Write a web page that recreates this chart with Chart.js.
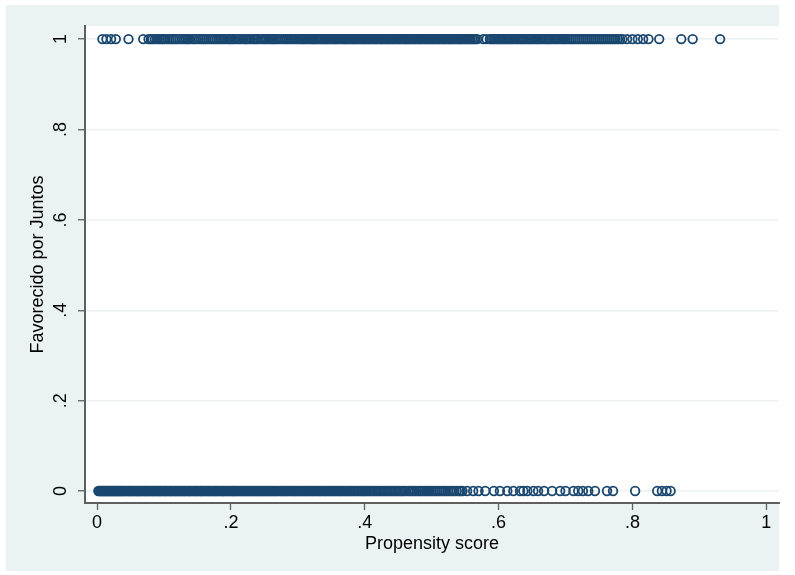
<!DOCTYPE html>
<html>
<head>
<meta charset="utf-8">
<script src="https://cdn.jsdelivr.net/npm/chart.js@4/dist/chart.umd.min.js"></script>
<style>
  html, body { margin: 0; padding: 0; background: #fff; }
  #wrap { width: 795px; height: 575px; }
</style>
</head>
<body>
<div id="wrap"><canvas id="c" width="795" height="575"></canvas></div>
<script>
// propensity scores of the favoured group (y = 1)
const treatedScores = [
  0.008, 0.014, 0.021, 0.028, 0.047, 0.069, 0.077, 0.083, 0.09, 0.096, 0.101, 0.108,
  0.114, 0.12, 0.127, 0.133, 0.138, 0.145, 0.152, 0.158, 0.163, 0.17, 0.176, 0.182,
  0.188, 0.195, 0.2, 0.205, 0.212, 0.219, 0.224, 0.23, 0.236, 0.241, 0.248, 0.254,
  0.26, 0.265, 0.271, 0.278, 0.284, 0.29, 0.296,
  0.302, 0.307, 0.311, 0.316, 0.321, 0.325, 0.33, 0.335, 0.34, 0.344, 0.349, 0.354,
  0.358, 0.363, 0.368, 0.372, 0.377, 0.382, 0.386, 0.391, 0.396, 0.4, 0.405, 0.409,
  0.414, 0.418, 0.423, 0.427, 0.432, 0.436, 0.441, 0.445, 0.45, 0.454, 0.459, 0.463,
  0.467, 0.472, 0.476, 0.481, 0.485, 0.49, 0.494, 0.499, 0.503, 0.508, 0.512, 0.517,
  0.521, 0.526, 0.53, 0.535, 0.54, 0.544, 0.549, 0.554, 0.558, 0.563, 0.568, 0.577,
  0.582, 0.587, 0.592, 0.597, 0.602, 0.607, 0.612, 0.617, 0.622, 0.628, 0.633, 0.638,
  0.644, 0.649, 0.655, 0.66, 0.666, 0.672, 0.677, 0.683, 0.689, 0.695, 0.7, 0.706,
  0.712, 0.718, 0.724, 0.73, 0.736, 0.742, 0.748, 0.754, 0.76, 0.766, 0.772, 0.778,
  0.785, 0.792, 0.8, 0.808, 0.816, 0.824, 0.84, 0.873, 0.89, 0.931
];
// more favoured cases in the crowded middle part
const treatedScoresDense = [
  0.0805, 0.0865, 0.093, 0.0985, 0.105, 0.111, 0.117, 0.1235, 0.13, 0.1355, 0.142, 0.148,
  0.155, 0.1605, 0.1665, 0.173, 0.179, 0.185, 0.191, 0.1975, 0.2025, 0.2085, 0.215,
  0.2215, 0.227, 0.2335, 0.2385, 0.245, 0.251, 0.257, 0.2625, 0.268, 0.2745, 0.281,
  0.287, 0.293, 0.299,
  0.3045, 0.309, 0.3135, 0.3185, 0.323, 0.3275, 0.3325, 0.3375, 0.342, 0.3465, 0.3515,
  0.356, 0.3605, 0.3655, 0.37, 0.3745, 0.3795, 0.384, 0.3885, 0.3935, 0.398, 0.4025,
  0.407, 0.4115, 0.416, 0.4205, 0.425, 0.4295, 0.434, 0.4385, 0.443, 0.4475, 0.452,
  0.4565, 0.461, 0.465, 0.4695, 0.474, 0.4785, 0.483, 0.4875, 0.492, 0.4965, 0.501,
  0.5055, 0.51, 0.5145, 0.519, 0.5235, 0.528, 0.5325, 0.5375, 0.542, 0.5465, 0.5515,
  0.556, 0.5605, 0.5655, 0.5895, 0.5945, 0.5995, 0.6045, 0.6095, 0.6145, 0.6195,
  0.6255, 0.6305, 0.6355, 0.641, 0.6465, 0.652, 0.6575, 0.663, 0.669, 0.6745, 0.68,
  0.686, 0.692, 0.6975, 0.703, 0.709, 0.715, 0.721, 0.727, 0.733, 0.739, 0.745, 0.751,
  0.757, 0.763, 0.769, 0.775, 0.7815
];

// propensity scores of the non-favoured group (y = 0)
const controlScores = [
  0.002, 0.005, 0.008, 0.011, 0.014, 0.017, 0.02, 0.023, 0.026, 0.029, 0.032, 0.035,
  0.038, 0.041, 0.045, 0.048, 0.051, 0.054, 0.058, 0.061, 0.064, 0.067, 0.071, 0.074,
  0.077, 0.081, 0.084, 0.087, 0.091, 0.094, 0.097, 0.101, 0.104, 0.108, 0.111, 0.115,
  0.118, 0.122, 0.125, 0.129, 0.132, 0.136, 0.139, 0.143, 0.147, 0.15, 0.154, 0.157,
  0.161, 0.165, 0.168, 0.172, 0.176, 0.179, 0.183, 0.187, 0.19, 0.194, 0.198, 0.202,
  0.205, 0.209, 0.213, 0.217, 0.221, 0.225, 0.229, 0.233, 0.237, 0.241, 0.245, 0.249,
  0.253, 0.257, 0.261, 0.265, 0.269, 0.274, 0.278, 0.282, 0.286, 0.291, 0.295, 0.299,
  0.303, 0.308, 0.312, 0.316, 0.321, 0.325, 0.33, 0.334, 0.339, 0.343, 0.348, 0.352,
  0.357, 0.362, 0.366, 0.371, 0.376, 0.38, 0.385, 0.39, 0.395, 0.399, 0.404, 0.409,
  0.414, 0.419, 0.424, 0.429, 0.434, 0.439, 0.444, 0.449, 0.454, 0.459, 0.465, 0.47,
  0.475, 0.481, 0.486, 0.492, 0.497, 0.503, 0.509, 0.515, 0.521, 0.528, 0.534, 0.541,
  0.546, 0.553, 0.562, 0.57, 0.58, 0.593, 0.602, 0.613, 0.622, 0.632, 0.637, 0.643,
  0.652, 0.659, 0.668, 0.68, 0.692, 0.7, 0.712, 0.719, 0.726, 0.734, 0.744, 0.762,
  0.771, 0.804, 0.837, 0.844, 0.851, 0.857
];
// more non-favoured cases where the band is solid
const controlScoresDense = [
  0.0035, 0.0065, 0.0095, 0.0125, 0.0155, 0.0185, 0.0215, 0.0245, 0.0275, 0.0305, 0.0335,
  0.0365, 0.0395, 0.043, 0.0465, 0.0495, 0.0525, 0.056, 0.0595, 0.0625, 0.0655, 0.069,
  0.0725, 0.0755, 0.079, 0.0825, 0.0855, 0.089, 0.0925, 0.0955, 0.099, 0.1025, 0.106,
  0.1095, 0.113, 0.1165, 0.12, 0.1235, 0.127, 0.1305, 0.134, 0.1375, 0.141, 0.145, 0.1485,
  0.152, 0.1555, 0.159, 0.163, 0.1665, 0.17, 0.174, 0.1775, 0.181, 0.185, 0.1885, 0.192,
  0.196, 0.2, 0.2035, 0.207, 0.211, 0.215, 0.219, 0.223, 0.227, 0.231, 0.235, 0.239, 0.243,
  0.247, 0.251, 0.255, 0.259, 0.263, 0.267, 0.2715, 0.276, 0.28, 0.284, 0.2885, 0.293,
  0.297, 0.301, 0.3055, 0.31, 0.314, 0.3185, 0.323, 0.3275, 0.332, 0.3365, 0.341, 0.3455,
  0.35, 0.3545, 0.3595, 0.364, 0.3685, 0.3735, 0.378, 0.3825, 0.3875, 0.3925, 0.397,
  0.4015, 0.4065, 0.4115, 0.4165, 0.4215, 0.4265, 0.4315, 0.4365, 0.4415, 0.4465, 0.4515,
  0.4565, 0.4615, 0.4675, 0.4725, 0.478, 0.4835, 0.489, 0.4945, 0.5, 0.506, 0.512, 0.518,
  0.5245, 0.531, 0.5375, 0.5435
];

const xTicks = [0, 0.2, 0.4, 0.6, 0.8, 1];
const xTickLabels = ['0', '.2', '.4', '.6', '.8', '1'];
const yTicks = [0, 0.2, 0.4, 0.6, 0.8, 1];
const yTickLabels = ['0', '.2', '.4', '.6', '.8', '1'];

const FONT = "'Liberation Sans', Arial, sans-serif";
const MARK = '#1A476F';
const BG = '#EAF2F3';
const AXIS = '#5f5f5f';

// Stata-like backgrounds + rotated y tick labels
const stataLook = {
  id: 'stataLook',
  beforeDraw(chart) {
    const ctx = chart.ctx;
    const a = chart.chartArea;
    ctx.save();
    ctx.fillStyle = '#ffffff';
    ctx.fillRect(0, 0, chart.width, chart.height);
    ctx.fillStyle = BG;
    ctx.fillRect(6, 5, 773, 566);
    ctx.fillStyle = '#ffffff';
    ctx.fillRect(a.left, a.top, a.right - a.left, a.bottom - a.top);
    ctx.restore();
  },
  afterDraw(chart) {
    const ctx = chart.ctx;
    const y = chart.scales.y;
    ctx.save();
    ctx.fillStyle = '#000';
    ctx.font = '18px ' + FONT;
    ctx.textAlign = 'center';
    ctx.textBaseline = 'middle';
    yTicks.forEach((v, i) => {
      ctx.save();
      ctx.translate(y.right - 24, y.getPixelForValue(v));
      ctx.rotate(-Math.PI / 2);
      ctx.fillText(yTickLabels[i], 0, 0);
      ctx.restore();
    });
    ctx.restore();
  }
};

const toPoints = (arr, yv) => arr.map(x => ({ x: x, y: yv }));

const markerStyle = {
  borderColor: MARK,
  backgroundColor: 'rgba(0,0,0,0)',
  borderWidth: 1.8,
  pointRadius: 4.3,
  pointHoverRadius: 4.3
};

new Chart(document.getElementById('c'), {
  type: 'scatter',
  data: {
    datasets: [
      Object.assign({ label: 'Favorecido',
        data: toPoints(treatedScores.concat(treatedScoresDense), 1) }, markerStyle),
      Object.assign({ label: 'No favorecido',
        data: toPoints(controlScores.concat(controlScoresDense), 0) }, markerStyle)
    ]
  },
  options: {
    responsive: false,
    animation: false,
    layout: { padding: { left: 0, top: 26, right: 16, bottom: 0 } },
    plugins: {
      legend: { display: false },
      tooltip: { enabled: false }
    },
    scales: {
      x: {
        type: 'linear',
        min: -0.018,
        max: 1.019,
        afterBuildTicks: s => { s.ticks = xTicks.map(v => ({ value: v })); },
        afterFit: s => { s.height = 72; },
        ticks: {
          color: '#000',
          font: { family: FONT, size: 18 },
          padding: 2,
          maxRotation: 0,
          callback: (v) => xTickLabels[xTicks.indexOf(v)]
        },
        grid: {
          drawOnChartArea: false,
          drawTicks: true,
          tickLength: 7,
          tickColor: AXIS,
          tickWidth: 1.3
        },
        border: { display: true, color: AXIS, width: 2 },
        title: {
          display: true,
          text: 'Propensity score',
          color: '#000',
          font: { family: FONT, size: 18 },
          padding: { top: 0, bottom: 20 }
        }
      },
      y: {
        type: 'linear',
        min: -0.0265,
        max: 1.029,
        afterBuildTicks: s => { s.ticks = yTicks.map(v => ({ value: v })); },
        afterFit: s => { s.width = 85; },
        ticks: { display: false },
        grid: {
          drawOnChartArea: true,
          color: BG,
          lineWidth: 1.5,
          drawTicks: true,
          tickLength: 7,
          tickColor: AXIS,
          tickWidth: 1.3
        },
        border: { display: true, color: AXIS, width: 2 },
        title: {
          display: true,
          text: 'Favorecido por Juntos',
          color: '#000',
          font: { family: FONT, size: 18 },
          padding: { top: 27, bottom: 0 }
        }
      }
    }
  },
  plugins: [stataLook]
});
</script>
</body>
</html>
